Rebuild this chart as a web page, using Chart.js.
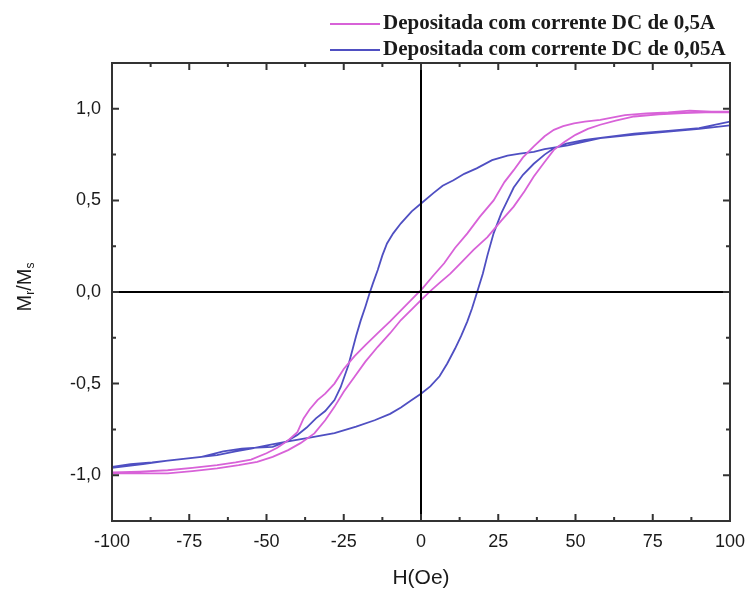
<!DOCTYPE html>
<html>
<head>
<meta charset="utf-8">
<title>Histerese M/Ms</title>
<script src="https://cdn.jsdelivr.net/npm/chart.js@4.4.1/dist/chart.umd.min.js"></script>
<style>
  html, body { margin: 0; padding: 0; background: #fff; }
  #wrap { position: relative; width: 748px; height: 592px; }
</style>
</head>
<body>
<div id="wrap"><canvas id="chart-loop" width="748" height="592"></canvas></div>
<script>
// Loop data: H in Oe, M as Mr/Ms.
// Each loop = descending branch (+100 -> -100) then ascending branch (-100 -> +100).
const LABEL_05A = "Depositada com corrente DC de 0,5A";
const LABEL_005A = "Depositada com corrente DC de 0,05A";

const hDown05 = [100, 94, 87, 80, 73, 66, 58, 53, 49.5, 46, 43, 40, 36.5, 33, 30, 27, 23.5, 19, 15, 11, 7.5, 4, 0.5, -3, -6.5, -10, -14, -18, -21.5, -25, -28, -31, -33.5, -36, -38, -40, -43, -46.5, -50, -55, -60, -66, -74, -82, -91, -100];
const mDown05 = [0.985, 0.985, 0.99, 0.98, 0.975, 0.965, 0.94, 0.93, 0.92, 0.905, 0.885, 0.85, 0.795, 0.735, 0.665, 0.6, 0.5, 0.41, 0.32, 0.24, 0.157, 0.09, 0.02, -0.04, -0.1, -0.16, -0.225, -0.29, -0.35, -0.42, -0.5, -0.555, -0.59, -0.64, -0.69, -0.765, -0.81, -0.85, -0.88, -0.915, -0.93, -0.945, -0.96, -0.973, -0.98, -0.985];
const hUp05 = [-100, -91, -82, -74, -66, -59, -53, -48, -43, -39, -34.5, -31, -28, -25, -21.5, -18, -14, -10, -6.5, -3, 0, 3, 6, 9.5, 13, 17, 21.5, 26, 30, 33.5, 36.5, 40, 43, 46.5, 50, 54, 58, 63, 69, 77, 85, 92, 100];
const mUp05 = [-0.99, -0.99, -0.99, -0.978, -0.963, -0.945, -0.927, -0.9, -0.863, -0.825, -0.772, -0.7, -0.627, -0.545, -0.463, -0.38, -0.299, -0.225, -0.153, -0.095, -0.044, 0.005, 0.05, 0.1, 0.16, 0.23, 0.3, 0.39, 0.466, 0.55, 0.63, 0.71, 0.776, 0.82, 0.858, 0.89, 0.913, 0.935, 0.958, 0.97, 0.977, 0.98, 0.98];

const hDown005 = [100, 90, 80, 70, 58, 47.5, 40, 36.5, 32, 28, 23, 18, 14, 10.5, 7, 4, 0.5, -3, -6.5, -9, -11, -12.5, -14, -15.5, -16.7, -18, -19.5, -21, -23.5, -26, -28, -31, -34, -37, -40, -44, -48, -53, -58, -64, -71, -79, -87, -94, -100];
const mDown005 = [0.91, 0.89, 0.875, 0.86, 0.84, 0.8, 0.78, 0.765, 0.755, 0.745, 0.72, 0.675, 0.645, 0.61, 0.58, 0.54, 0.49, 0.44, 0.375, 0.32, 0.265, 0.2, 0.12, 0.05, -0.01, -0.08, -0.155, -0.24, -0.4, -0.52, -0.59, -0.65, -0.69, -0.74, -0.78, -0.82, -0.845, -0.85, -0.855, -0.87, -0.9, -0.915, -0.93, -0.94, -0.955];
const hUp005 = [-100, -90, -82, -74, -66, -60, -55, -49, -43, -36, -28, -21, -15, -10, -6.5, -3, 0, 3, 6, 8.5, 11, 13, 15, 16.5, 18, 20, 21.5, 23.5, 26, 28, 30, 33, 36.5, 40, 43, 47, 53, 60, 69, 80, 90, 100];
const mUp005 = [-0.96, -0.94, -0.92, -0.905, -0.89, -0.87, -0.855, -0.835, -0.815, -0.795, -0.77, -0.735, -0.7, -0.665, -0.63, -0.59, -0.555, -0.515, -0.46, -0.39, -0.31, -0.24, -0.16, -0.09, -0.01, 0.1, 0.2, 0.32, 0.43, 0.5, 0.57, 0.64, 0.7, 0.75, 0.785, 0.81, 0.83, 0.845, 0.865, 0.88, 0.895, 0.93];

const xMajorTicks = [-100, -75, -50, -25, 0, 25, 50, 75, 100];
const yMajorTicks = [-1.0, -0.5, 0.0, 0.5, 1.0];

(function () {
  const COLORS = {
    pink: "#d862d8",
    blue: "#4f4fc2",
    frame: "#333333",
    text: "#1a1a1a",
  };
  const SANS = "'Liberation Sans', Arial, sans-serif";
  const SERIF = "'Liberation Serif', 'Times New Roman', serif";

  const toPoints = (hs, ms) => hs.map((h, i) => ({ x: h, y: ms[i] }));
  const loop = (hD, mD, hU, mU) => toPoints(hD, mD).concat(toPoints(hU, mU));

  const isMajor = (v, list) => list.some((t) => Math.abs(t - v) < 1e-6);
  const comma = (v) => v.toFixed(1).replace(".", ",");

  // Frame, inward ticks on all four sides, zero lines, titles and legend.
  const decorations = {
    id: "decorations",
    afterDatasetsDraw(chart) {
      const { ctx, chartArea: a, scales } = chart;
      const xs = scales.x, ys = scales.y;
      ctx.save();

      // zero cross-hair
      ctx.strokeStyle = "#000";
      ctx.lineWidth = 2;
      const x0 = xs.getPixelForValue(0), y0 = ys.getPixelForValue(0);
      ctx.beginPath();
      ctx.moveTo(x0, a.top); ctx.lineTo(x0, a.bottom);
      ctx.moveTo(a.left, y0); ctx.lineTo(a.right, y0);
      ctx.stroke();

      // ticks
      ctx.strokeStyle = COLORS.frame;
      ctx.lineWidth = 2;
      xs.ticks.forEach((t) => {
        const px = xs.getPixelForValue(t.value);
        const len = isMajor(t.value, xMajorTicks) ? 7 : 4;
        ctx.beginPath();
        ctx.moveTo(px, a.bottom); ctx.lineTo(px, a.bottom - len);
        ctx.moveTo(px, a.top); ctx.lineTo(px, a.top + len);
        ctx.stroke();
      });
      ys.ticks.forEach((t) => {
        const py = ys.getPixelForValue(t.value);
        const len = isMajor(t.value, yMajorTicks) ? 7 : 4;
        ctx.beginPath();
        ctx.moveTo(a.left, py); ctx.lineTo(a.left + len, py);
        ctx.moveTo(a.right, py); ctx.lineTo(a.right - len, py);
        ctx.stroke();
      });

      // frame
      ctx.strokeRect(a.left, a.top, a.right - a.left, a.bottom - a.top);

      // x title
      ctx.fillStyle = COLORS.text;
      ctx.font = "21px " + SANS;
      ctx.textAlign = "center";
      ctx.textBaseline = "middle";
      ctx.fillText("H(Oe)", (a.left + a.right) / 2, 578);

      // y title: M_r/M_s, rotated
      ctx.save();
      ctx.translate(25, 287);
      ctx.rotate(-Math.PI / 2);
      const big = "20px " + SANS, small = "12px " + SANS;
      const parts = [["M", big, 0], ["r", small, 6], ["/M", big, 0], ["s", small, 6]];
      let total = 0;
      parts.forEach(([s, f]) => { ctx.font = f; total += ctx.measureText(s).width; });
      let cx = -total / 2;
      ctx.textAlign = "left";
      ctx.textBaseline = "middle";
      parts.forEach(([s, f, dy]) => {
        ctx.font = f;
        ctx.fillText(s, cx, dy);
        cx += ctx.measureText(s).width;
      });
      ctx.restore();

      // legend
      ctx.font = "bold 21px " + SERIF;
      ctx.textAlign = "left";
      ctx.textBaseline = "middle";
      chart.data.datasets.forEach((ds, i) => {
        const y = 24 + i * 26;
        ctx.strokeStyle = ds.borderColor;
        ctx.lineWidth = 2;
        ctx.beginPath();
        ctx.moveTo(330, y); ctx.lineTo(380, y);
        ctx.stroke();
        ctx.fillStyle = COLORS.text;
        ctx.fillText(ds.label, 383, y);
      });

      ctx.restore();
    },
  };

  const el = document.getElementById("chart-loop");
  new Chart(el, {
    type: "scatter",
    data: {
      datasets: [
        {
          label: LABEL_05A,
          data: loop(hDown05, mDown05, hUp05, mUp05),
          showLine: true,
          borderColor: COLORS.pink,
          backgroundColor: COLORS.pink,
          borderWidth: 1.8,
          pointRadius: 0,
          tension: 0,
        },
        {
          label: LABEL_005A,
          data: loop(hDown005, mDown005, hUp005, mUp005),
          showLine: true,
          borderColor: COLORS.blue,
          backgroundColor: COLORS.blue,
          borderWidth: 1.8,
          pointRadius: 0,
          tension: 0,
        },
      ],
    },
    options: {
      responsive: false,
      animation: false,
      layout: { padding: { left: 0, top: 63, right: 18, bottom: 0 } },
      plugins: {
        legend: { display: false },
        tooltip: { enabled: false },
      },
      scales: {
        x: {
          type: "linear",
          min: -100,
          max: 100,
          border: { display: false },
          grid: { display: false, drawTicks: false },
          ticks: {
            stepSize: 12.5,
            padding: 10,
            autoSkip: false,
            maxRotation: 0,
            color: COLORS.text,
            font: { family: SANS, size: 18 },
            callback: (v) => (isMajor(v, xMajorTicks) ? String(v) : ""),
          },
          afterFit: (s) => { s.height = 71; s.paddingLeft = 0; s.paddingRight = 0; },
        },
        y: {
          type: "linear",
          min: -1.25,
          max: 1.25,
          border: { display: false },
          grid: { display: false, drawTicks: false },
          ticks: {
            stepSize: 0.25,
            padding: 11,
            autoSkip: false,
            color: COLORS.text,
            font: { family: SANS, size: 18 },
            callback: (v) => (isMajor(v, yMajorTicks) ? comma(v) : ""),
          },
          afterFit: (s) => { s.width = 112; s.paddingTop = 0; s.paddingBottom = 0; },
        },
      },
    },
    plugins: [decorations],
  });
})();
</script>
</body>
</html>
